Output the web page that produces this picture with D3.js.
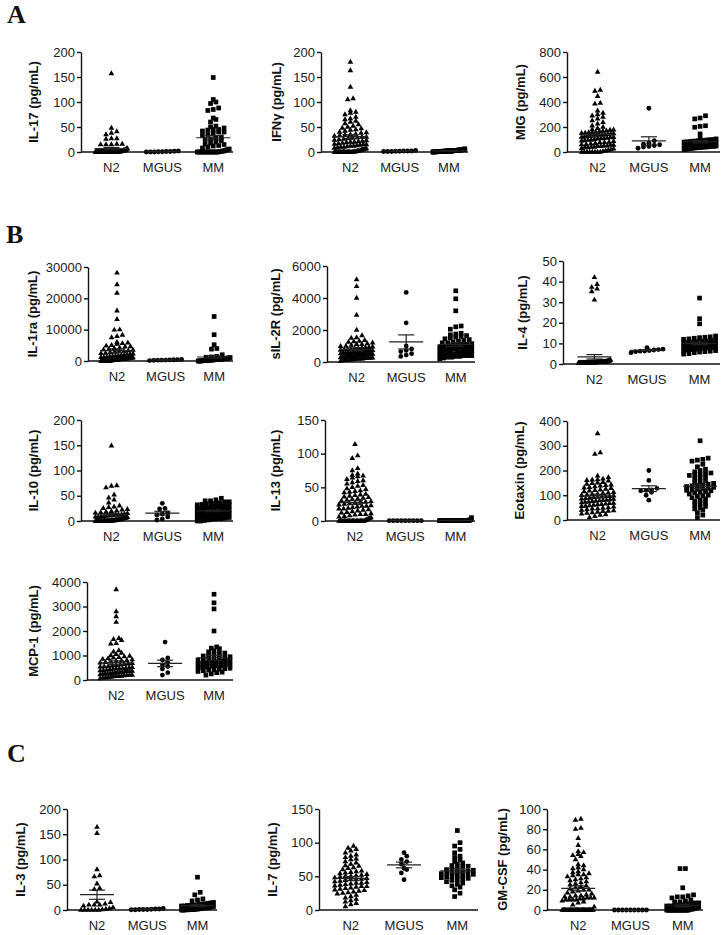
<!DOCTYPE html>
<html>
<head>
<meta charset="UTF-8">
<script src="https://cdnjs.cloudflare.com/ajax/libs/d3/7.8.5/d3.min.js"></script>
<style>
body { margin:0; background:#fff; }
svg { display:block; font-family: Arial, "Liberation Sans", sans-serif; }
.Axis path, .Axis line { stroke:#111; stroke-width:1.4px; }
.Axis text { font-size:13px; fill:#1a1a1a; }
.Title { font-size:13px; font-weight:bold; fill:#111; }
.Cat { font-size:13px; fill:#1a1a1a; }
.Letter { font-family:"Liberation Serif", "Times New Roman", serif; font-weight:bold; font-size:26px; fill:#111; }
</style>
</head>
<body>
<svg class="Chart" width="724" height="935"></svg>
<script>
var Groups = ["N2", "MGUS", "MM"];

// ---- A ----
var IL17_Ticks = [0, 50, 100, 150, 200];
var IL17_N2 = [157, 48, 41, 38, 35, 27, 27, 26, 16, 16, 15, 15, 15, 7, 7, 6, 5, 4, 4, 3, 3, 3, 2, 2, 2, 2, 2, 1, 1, 1, 1, 1, 1, 1, 1, 1, 1, 1, 1, 1, 0, 0, 0, 0, 0, 0, 0, 0, 0, 0, 0, 0, 0, 0, 0, 0, 0, 0, 0, 0, 0, 0, 0, 0, 0, 0, 0, 0, 0, 0, 0, 0, 0, 0, 0, 0, 0, 0, 0, 0];
var IL17_MGUS = [2, 1.5, 1, 1, 0.5, 0.5, 0, 0, 0];
var IL17_MM = [149, 105, 100, 97, 88, 85, 83, 68, 65, 60, 52, 50, 48, 45, 45, 44, 42, 40, 40, 38, 35, 33, 30, 28, 26, 25, 23, 20, 18, 16, 15, 13, 12, 10, 8, 6, 5, 4, 3, 2, 2, 1, 1, 0, 0, 0, 0, 0, 0, 0, 0, 0, 0, 0, 0, 0, 0, 0, 0];

var IFNG_Ticks = [0, 50, 100, 150, 200];
var IFNG_N2 = [180, 163, 130, 107, 105, 83, 80, 78, 75, 70, 67, 65, 62, 60, 57, 55, 52, 50, 48, 47, 45, 44, 42, 40, 39, 38, 36, 35, 34, 33, 32, 30, 30, 29, 28, 27, 26, 25, 24, 23, 22, 21, 20, 20, 19, 18, 17, 16, 15, 15, 14, 13, 12, 12, 11, 10, 10, 9, 8, 7, 6, 5, 5, 4, 3, 2, 2, 1, 1, 0, 0, 0, 0, 0, 0, 0, 0, 0, 0, 0, 0, 0, 0, 0, 0];
var IFNG_MGUS = [3, 2, 2, 2, 1.5, 1.5, 1, 1, 1];
var IFNG_MM = [6, 6, 5, 5, 5, 5, 4, 4, 4, 4, 4, 4, 3, 3, 3, 3, 3, 3, 3, 3, 3, 2, 2, 2, 2, 2, 2, 2, 2, 2, 2, 2, 2, 1.5, 1.5, 1.5, 1.5, 1.5, 1, 1, 1, 1, 1, 1, 1, 1, 1, 0.5, 0.5, 0.5, 0.5, 0.5, 0, 0, 0];

var MIG_Ticks = [0, 200, 400, 600, 800];
var MIG_N2 = [640, 495, 488, 445, 392, 385, 330, 312, 300, 290, 280, 265, 252, 238, 225, 210, 200, 190, 180, 178, 175, 170, 168, 165, 160, 158, 155, 152, 150, 148, 145, 142, 140, 138, 135, 132, 130, 128, 125, 122, 120, 118, 115, 112, 110, 108, 105, 100, 98, 95, 92, 90, 85, 80, 78, 75, 70, 65, 60, 60, 55, 55, 50, 50, 45, 45, 40, 40, 35, 35, 30, 25, 20, 15, 10, 5, 0, 0, 0, 0, 0, 0, 0, 0];
var MIG_MGUS = [350, 90, 70, 62, 58, 52, 45, 40, 30];
var MIG_MM = [290, 272, 265, 210, 205, 198, 145, 110, 105, 100, 98, 95, 92, 90, 88, 85, 82, 80, 78, 76, 75, 72, 70, 68, 66, 65, 63, 62, 60, 58, 56, 55, 54, 52, 50, 50, 48, 46, 45, 44, 42, 40, 40, 38, 36, 35, 34, 32, 30, 28, 25, 22, 20];

// ---- B ----
var IL1RA_Ticks = [0, 10000, 20000, 30000];
var IL1RA_N2 = [28100, 24400, 21700, 16000, 13300, 10000, 9900, 8300, 7900, 7500, 6000, 5800, 5600, 5400, 5000, 4800, 4600, 4500, 4200, 4000, 3800, 3600, 3500, 3300, 3100, 3000, 2800, 2700, 2500, 2400, 2300, 2200, 2000, 1900, 1800, 1700, 1600, 1500, 1400, 1300, 1200, 1200, 1100, 1000, 1000, 950, 900, 850, 800, 800, 750, 700, 650, 600, 600, 550, 500, 500, 450, 400, 350, 300, 300, 250, 200, 200, 150, 100, 100, 50, 0, 0, 0, 0, 0, 0, 0, 0, 0, 0];
var IL1RA_MGUS = [500, 450, 400, 350, 300, 300, 250, 200, 150];
var IL1RA_MM = [14200, 8400, 5200, 4000, 3800, 2000, 1500, 1300, 1200, 1100, 1000, 950, 900, 850, 800, 750, 700, 700, 650, 600, 600, 550, 500, 500, 450, 450, 400, 400, 350, 350, 300, 300, 250, 250, 200, 200, 150, 150, 100, 100, 50, 50, 0, 0, 0];

var SIL2R_Ticks = [0, 2000, 4000, 6000];
var SIL2R_N2 = [5150, 4720, 4000, 2930, 2000, 1650, 1530, 1500, 1350, 1300, 1280, 1250, 1200, 1150, 1100, 1100, 1050, 1000, 980, 950, 920, 900, 880, 850, 830, 800, 780, 760, 750, 720, 700, 700, 680, 650, 640, 620, 600, 600, 580, 560, 550, 540, 520, 500, 500, 480, 460, 450, 450, 440, 420, 400, 400, 400, 380, 360, 350, 350, 340, 320, 300, 300, 300, 280, 260, 250, 250, 240, 220, 200, 200, 200, 180, 160, 150, 150, 120, 100, 100, 80, 50];
var SIL2R_MGUS = [4350, 2450, 1000, 820, 720, 650, 520, 430, 350];
var SIL2R_MM = [4450, 3950, 3200, 2250, 2200, 2050, 1800, 1750, 1700, 1650, 1600, 1550, 1500, 1450, 1400, 1350, 1300, 1250, 1200, 1200, 1150, 1100, 1100, 1050, 1000, 1000, 950, 950, 900, 900, 850, 850, 800, 800, 750, 750, 700, 700, 650, 650, 600, 600, 550, 550, 500, 500, 500, 450, 450, 450, 400, 400, 400, 350, 350, 300, 300, 250, 200];

var IL4_Ticks = [0, 10, 20, 30, 40, 50];
var IL4_N2 = [42, 38.7, 37.3, 36.5, 35.2, 31.1, 2, 1.8, 1.6, 1.5, 1.5, 1.4, 1.3, 1.2, 1.2, 1.1, 1.1, 1, 1, 1, 1, 1, 1, 1, 1, 1, 1, 0.9, 0.9, 0.9, 0.9, 0.9, 0.8, 0.8, 0.8, 0.8, 0.8, 0.8, 0.8, 0.7, 0.7, 0.7, 0.7, 0.7, 0.7, 0.7, 0.7, 0.6, 0.6, 0.6, 0.6, 0.6, 0.6, 0.6, 0.6, 0.6, 0.6, 0.5, 0.5, 0.5, 0.5, 0.5, 0.5, 0.5, 0.5, 0.5, 0.5, 0.5, 0.5, 0.5, 0.5, 0.5, 0.5, 0.5, 0.5, 0.5, 0.5, 0.5, 0.5, 0.5];
var IL4_MGUS = [8, 7.2, 7, 6.8, 6.5, 6.3, 6.2, 6, 5.5];
var IL4_MM = [32, 22, 19.5, 13.6, 13.2, 13, 12.8, 12.5, 12.2, 12, 11.8, 11.5, 11.2, 11, 10.8, 10.6, 10.4, 10.2, 10, 10, 9.8, 9.6, 9.5, 9.3, 9.2, 9, 9, 8.8, 8.6, 8.5, 8.4, 8.2, 8, 8, 7.8, 7.6, 7.5, 7.3, 7.2, 7, 7, 6.8, 6.6, 6.5, 6.2, 6, 5.8, 5.5, 5, 4.8];

var IL10_Ticks = [0, 50, 100, 150, 200];
var IL10_N2 = [149, 70, 69, 66, 52, 46, 42, 36, 30, 28, 27, 25, 23, 22, 20, 19, 18, 17, 16, 15, 14, 13, 12, 12, 11, 10, 10, 9, 9, 8, 8, 7, 7, 6, 6, 5, 5, 5, 4, 4, 4, 3, 3, 3, 3, 2, 2, 2, 2, 2, 1, 1, 1, 1, 1, 1, 0, 0, 0, 0, 0, 0, 0, 0, 0, 0, 0, 0, 0, 0, 0, 0, 0, 0, 0, 0, 0, 0, 0, 0];
var IL10_MGUS = [35, 25, 24, 16, 14, 12, 8, 4, 2];
var IL10_MM = [45, 42, 40, 40, 38, 38, 36, 35, 35, 34, 33, 32, 31, 30, 30, 29, 28, 27, 26, 25, 25, 24, 23, 22, 22, 21, 20, 20, 19, 18, 18, 17, 16, 16, 15, 14, 14, 13, 12, 12, 11, 10, 10, 9, 8, 8, 7, 6, 5, 5, 4, 3, 2, 1, 0, 0];

var IL13_Ticks = [0, 50, 100, 150];
var IL13_N2 = [114, 97, 93, 78, 75, 70, 68, 67, 66, 64, 62, 60, 59, 57, 55, 53, 52, 50, 48, 47, 45, 44, 43, 42, 40, 39, 38, 37, 36, 35, 34, 33, 32, 31, 30, 29, 28, 28, 27, 26, 25, 24, 23, 22, 22, 21, 20, 19, 18, 18, 17, 16, 15, 14, 13, 12, 11, 10, 10, 9, 8, 7, 6, 5, 4, 3, 2, 1, 0, 0, 0, 0, 0, 0, 0, 0, 0, 0, 0, 0, 0, 0, 0, 0, 0, 0, 0, 0];
var IL13_MGUS = [0.5, 0.5, 0.5, 0.5, 0.5, 0.5, 0.5, 0.5, 0.5];
var IL13_MM = [5, 2, 1.5, 1.5, 1, 1, 1, 1, 1, 1, 1, 1, 0.8, 0.8, 0.8, 0.8, 0.8, 0.8, 0.8, 0.8, 0.8, 0.5, 0.5, 0.5, 0.5, 0.5, 0.5, 0.5, 0.5, 0.5, 0.5, 0.5, 0.5, 0.5, 0.5, 0.5, 0.5, 0.5, 0.5, 0.5, 0.5, 0.5, 0.5, 0.5, 0.5, 0.5, 0.5, 0.5, 0.5, 0.5];

var EOTAXIN_Ticks = [0, 100, 200, 300, 400];
var EOTAXIN_N2 = [349, 272, 266, 178, 172, 166, 163, 162, 160, 158, 152, 150, 148, 145, 142, 140, 138, 135, 132, 130, 128, 125, 122, 120, 118, 115, 112, 110, 108, 105, 104, 102, 100, 98, 96, 95, 93, 92, 90, 88, 87, 85, 84, 82, 80, 79, 78, 76, 75, 73, 72, 70, 68, 67, 65, 63, 62, 60, 58, 56, 55, 53, 50, 48, 46, 45, 42, 40, 38, 36, 35, 32, 30, 28, 25, 22, 20, 15, 10];
var EOTAXIN_MGUS = [200, 160, 128, 122, 120, 118, 112, 100, 80];
var EOTAXIN_MM = [320, 250, 245, 242, 238, 225, 215, 205, 200, 195, 190, 188, 185, 182, 180, 175, 170, 165, 160, 155, 150, 148, 145, 142, 140, 138, 135, 132, 130, 128, 125, 122, 120, 118, 115, 112, 110, 105, 100, 98, 95, 90, 85, 80, 75, 70, 65, 60, 55, 50, 45, 40, 30, 20, 10];

var MCP1_Ticks = [0, 1000, 2000, 3000, 4000];
var MCP1_N2 = [3690, 2790, 2590, 2360, 1700, 1660, 1620, 1500, 1480, 1200, 1150, 1100, 1050, 1000, 980, 950, 920, 900, 880, 850, 830, 800, 780, 760, 740, 720, 700, 680, 660, 640, 620, 600, 580, 560, 550, 540, 520, 500, 480, 470, 460, 450, 440, 420, 400, 390, 380, 360, 350, 350, 340, 320, 300, 300, 290, 280, 260, 250, 250, 240, 220, 200, 200, 190, 180, 160, 150, 150, 140, 120, 100, 100, 80, 60];
var MCP1_MGUS = [1550, 900, 820, 700, 620, 550, 450, 300, 200];
var MCP1_MM = [3500, 3150, 2900, 2000, 1350, 1300, 1280, 1200, 1150, 1100, 1100, 1050, 1000, 980, 950, 920, 900, 880, 860, 840, 820, 800, 780, 760, 740, 720, 700, 680, 660, 640, 620, 600, 580, 560, 540, 520, 500, 480, 460, 440, 420, 400, 380, 350, 320, 300, 250, 200];

// ---- C ----
var IL3_Ticks = [0, 50, 100, 150, 200];
var IL3_N2 = [164, 152, 80, 68, 66, 52, 43, 41, 16, 15, 12, 10, 10, 10, 8, 5, 3, 2, 1, 0, 0, 0, 0, 0, 0];
var IL3_MGUS = [3, 2, 2, 1.5, 1, 1, 1, 0.5, 0.5];
var IL3_MM = [65, 35, 30, 22, 20, 18, 15, 14, 13, 12, 12, 11, 10, 10, 9, 9, 8, 8, 7, 7, 6, 6, 5, 5, 5, 4, 4, 4, 3, 3, 3, 2, 2, 2, 2, 1, 1, 1, 1, 0.5, 0.5, 0.5, 0.5, 0, 0, 0];

var IL7_Ticks = [0, 50, 100, 150];
var IL7_N2 = [95, 92, 90, 88, 85, 82, 80, 78, 76, 75, 72, 70, 68, 66, 65, 63, 62, 60, 58, 57, 56, 55, 54, 53, 52, 51, 50, 50, 49, 48, 47, 46, 45, 45, 44, 43, 42, 41, 40, 40, 39, 38, 37, 36, 35, 35, 34, 33, 32, 31, 30, 29, 28, 27, 26, 25, 24, 22, 20, 18, 16, 14, 12, 10, 8, 5];
var IL7_MGUS = [85, 80, 75, 72, 68, 62, 60, 55, 45];
var IL7_MM = [118, 100, 95, 90, 85, 80, 78, 75, 72, 70, 68, 66, 65, 64, 62, 61, 60, 59, 58, 57, 56, 55, 55, 54, 53, 52, 51, 50, 50, 49, 48, 47, 46, 45, 44, 42, 40, 38, 36, 34, 30, 25, 20];

var GMCSF_Ticks = [0, 20, 40, 60, 80, 100];
var GMCSF_N2 = [90, 89, 81, 80, 71, 64, 58, 57, 55, 54, 53, 50, 45, 44, 42, 41, 40, 38, 37, 36, 35, 35, 34, 33, 32, 31, 30, 29, 28, 27, 26, 25, 24, 23, 22, 21, 20, 20, 19, 18, 17, 16, 15, 14, 14, 13, 13, 12, 12, 12, 11, 11, 10, 10, 10, 10, 9, 8, 7, 5, 3, 0, 0, 0, 0, 0, 0, 0, 0, 0, 0, 0, 0, 0, 0, 0, 0, 0, 0, 0, 0, 0, 0, 0, 0, 0, 0, 0];
var GMCSF_MGUS = [0, 0, 0, 0, 0, 0, 0, 0, 0];
var GMCSF_MM = [41, 41, 22, 15, 14, 13, 13, 12, 10, 9, 8, 8, 7, 7, 6, 6, 5, 5, 5, 4, 4, 4, 3, 3, 3, 2, 2, 2, 2, 1, 1, 1, 1, 1, 0, 0, 0, 0, 0, 0, 0, 0, 0, 0, 0, 0, 0, 0, 0, 0, 0, 0, 0, 0, 0, 0, 0, 0, 0, 0];

// layout of each small plot (pixels)
var Panels = [
	{Title:"IL-17 (pg/mL)", Data:[IL17_N2, IL17_MGUS, IL17_MM], Ticks:IL17_Ticks, Left:81, Right:233, Top:52, Bottom:152, TitleX:33},
	{Title:"IFNγ (pg/mL)", Data:[IFNG_N2, IFNG_MGUS, IFNG_MM], Ticks:IFNG_Ticks, Left:321, Right:468, Top:52, Bottom:152, TitleX:276},
	{Title:"MIG (pg/mL)", Data:[MIG_N2, MIG_MGUS, MIG_MM], Ticks:MIG_Ticks, Left:567, Right:720, Top:52, Bottom:152, TitleX:520},
	{Title:"IL-1ra (pg/mL)", Data:[IL1RA_N2, IL1RA_MGUS, IL1RA_MM], Ticks:IL1RA_Ticks, Left:88, Right:233, Top:267, Bottom:361, TitleX:32},
	{Title:"sIL-2R (pg/mL)", Data:[SIL2R_N2, SIL2R_MGUS, SIL2R_MM], Ticks:SIL2R_Ticks, Left:327, Right:475, Top:266, Bottom:362, TitleX:275},
	{Title:"IL-4 (pg/mL)", Data:[IL4_N2, IL4_MGUS, IL4_MM], Ticks:IL4_Ticks, Left:563, Right:720, Top:261, Bottom:364, TitleX:522},
	{Title:"IL-10 (pg/mL)", Data:[IL10_N2, IL10_MGUS, IL10_MM], Ticks:IL10_Ticks, Left:81, Right:233, Top:420, Bottom:521, TitleX:33},
	{Title:"IL-13 (pg/mL)", Data:[IL13_N2, IL13_MGUS, IL13_MM], Ticks:IL13_Ticks, Left:325, Right:475, Top:420, Bottom:521, TitleX:275},
	{Title:"Eotaxin (pg/mL)", Data:[EOTAXIN_N2, EOTAXIN_MGUS, EOTAXIN_MM], Ticks:EOTAXIN_Ticks, Left:567, Right:720, Top:421, Bottom:520, TitleX:519},
	{Title:"MCP-1 (pg/mL)", Data:[MCP1_N2, MCP1_MGUS, MCP1_MM], Ticks:MCP1_Ticks, Left:87, Right:233, Top:582, Bottom:680, TitleX:33},
	{Title:"IL-3 (pg/mL)", Data:[IL3_N2, IL3_MGUS, IL3_MM], Ticks:IL3_Ticks, Left:67, Right:217, Top:809, Bottom:910, TitleX:20},
	{Title:"IL-7 (pg/mL)", Data:[IL7_N2, IL7_MGUS, IL7_MM], Ticks:IL7_Ticks, Left:319, Right:478, Top:809, Bottom:910, TitleX:272},
	{Title:"GM-CSF (pg/mL)", Data:[GMCSF_N2, GMCSF_MGUS, GMCSF_MM], Ticks:GMCSF_Ticks, Left:547, Right:703, Top:809, Bottom:910, TitleX:502}
];

var Letters = [{Text:"A", X:7, Y:23}, {Text:"B", X:6, Y:243}, {Text:"C", X:7, Y:762}];

var Symbols = [d3.symbol().type(d3.symbolTriangle).size(14),
	d3.symbol().type(d3.symbolCircle).size(18),
	d3.symbol().type(d3.symbolSquare).size(22)];

var Spacing = 5.4, MaxWidth = 32, RowGap = 3.6;

// prism style column scatter: points of about the same height go side by side
function Swarm(Values, YScale, Cx)
{
	var Pts = Values.map(function(V){return {V:V, Y:YScale(V)};})
		.sort(function(a, b){return b.Y - a.Y;});
	var Rows = [], Row = null;
	Pts.forEach(function(P)
	{
		if (!Row || Row[0].Y - P.Y > RowGap) { Row = [P]; Rows.push(Row); }
		else Row.push(P);
	});
	Rows.forEach(function(R)
	{
		var K = R.length;
		var Step = K > 1 ? Math.min(Spacing, MaxWidth/(K-1)) : 0;
		R.forEach(function(P, i){ P.X = Cx + (i - (K-1)/2)*Step; });
	});
	return Pts;
}

var Chart = d3.select(".Chart");

Chart.selectAll(".Letter").data(Letters).enter().append("text")
	.attr("class", "Letter")
	.attr("x", function(D){return D.X;})
	.attr("y", function(D){return D.Y;})
	.text(function(D){return D.Text;});

Panels.forEach(function(P)
{
	var G = Chart.append("g");
	var YScale = d3.scaleLinear().domain([0, d3.max(P.Ticks)]).range([P.Bottom, P.Top]);
	var W = P.Right - P.Left;
	var XScale = d3.scalePoint().domain(Groups).range([P.Left + 0.2*W, P.Left + 0.87*W]);

	G.append("g")
		.attr("class", "Axis")
		.attr("transform", "translate(" + P.Left + ",0)")
		.call(d3.axisLeft(YScale).tickValues(P.Ticks).tickFormat(d3.format("d")).tickSize(4).tickSizeOuter(0).tickPadding(2));

	G.append("line")
		.attr("x1", P.Left).attr("x2", P.Right)
		.attr("y1", P.Bottom).attr("y2", P.Bottom)
		.style("stroke", "#111").style("stroke-width", 1.4);

	G.selectAll(".Cat").data(Groups).enter().append("text")
		.attr("class", "Cat")
		.attr("x", function(D){return XScale(D);})
		.attr("y", P.Bottom + 20)
		.attr("text-anchor", "middle")
		.text(function(D){return D;});

	G.append("text")
		.attr("class", "Title")
		.attr("transform", "translate(" + P.TitleX + "," + ((P.Top + P.Bottom)/2) + ") rotate(-90)")
		.attr("text-anchor", "middle")
		.attr("dy", "0.35em")
		.text(P.Title);

	P.Data.forEach(function(Values, Gi)
	{
		var Cx = XScale(Groups[Gi]);
		var Pts = Swarm(Values, YScale, Cx);
		G.append("g").selectAll("path").data(Pts).enter().append("path")
			.attr("d", Symbols[Gi])
			.attr("transform", function(D){return "translate(" + D.X + "," + D.Y + ")";})
			.style("fill", "#000");

		var Mean = d3.mean(Values);
		var Sem = d3.deviation(Values)/Math.sqrt(Values.length);
		var Err = G.append("g").style("stroke", "#222").style("stroke-width", 1.2);
		Err.append("line").attr("x1", Cx - 17).attr("x2", Cx + 17)
			.attr("y1", YScale(Mean)).attr("y2", YScale(Mean));
		Err.append("line").attr("x1", Cx).attr("x2", Cx)
			.attr("y1", YScale(Mean - Sem)).attr("y2", YScale(Mean + Sem));
		[Mean - Sem, Mean + Sem].forEach(function(V)
		{
			Err.append("line").attr("x1", Cx - 8).attr("x2", Cx + 8)
				.attr("y1", YScale(V)).attr("y2", YScale(V));
		});
	});
});
</script>
</body>
</html>
